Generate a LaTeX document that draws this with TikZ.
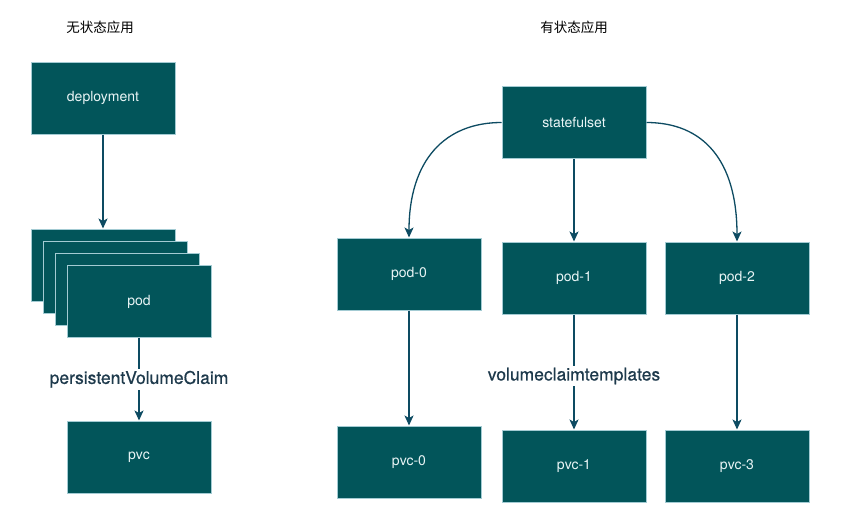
\documentclass[tikz,border=0pt]{standalone}
\usepackage{fontspec}
\setmainfont{TeX Gyre Heros}
\newfontfamily\cjk{Noto Sans CJK SC}
\newfontfamily\lblfont[FakeBold=0.6]{TeX Gyre Heros}
\usetikzlibrary{arrows.meta}
\definecolor{boxfill}{HTML}{02555A}
\definecolor{boxline}{HTML}{A3CBD3}
\definecolor{arrowcol}{HTML}{0D4B62}
\definecolor{labelcol}{HTML}{1E3A4C}
\definecolor{boxtext}{HTML}{EAF5F6}
\tikzset{
  kbox/.style={draw=boxline, fill=boxfill, line width=1pt, minimum width=144pt, minimum height=72pt, inner sep=0pt, text=boxtext, font=\fontsize{14}{16}\selectfont},
  conn/.style={draw=arrowcol, line width=1.3pt, -{Stealth[length=10pt,width=9pt,inset=2.5pt]}},
  lbl/.style={fill=white, text=labelcol, inner sep=2pt, font=\lblfont\fontsize{17.5}{20}\selectfont},
  ttl/.style={text=black, font=\cjk\fontsize{13.5}{16}\selectfont}
}
\begin{document}
\begin{tikzpicture}[x=1pt,y=1pt]
\useasboundingbox[fill=white] (0,0) rectangle (854,-515);
% titles
\node[ttl] (t1) at (100,-27) {无状态应用};
\node[ttl] (t2) at (574,-27) {有状态应用};
% left side
\node[kbox] (dep) at (103,-98) {deployment};
\node[kbox] (pa) at (103,-265) {};
\node[kbox] (pb) at (115,-277) {};
\node[kbox] (pc) at (127,-289) {};
\node[kbox] (pod) at (139,-301.5) {pod};
\node[kbox] (pvc) at (139,-457) {pvc};
\draw[conn] (dep.south) -- (pa.north);
\draw[conn] (pod.south) -- node[lbl, pos=0.5] (l1) {persistentVolumeClaim} (pvc.north);
% right side
\node[kbox] (ss) at (574,-122.5) {statefulset};
\node[kbox] (p0) at (409,-274) {pod-0};
\node[kbox] (p1) at (574,-278) {pod-1};
\node[kbox] (p2) at (737,-278) {pod-2};
\node[kbox] (v0) at (409,-462) {pvc-0};
\node[kbox] (v1) at (574,-466) {pvc-1};
\node[kbox] (v3) at (737,-466) {pvc-3};
\draw[conn] (ss.west) .. controls (445,-122.5) and (409,-160) .. (p0.north);
\draw[conn] (ss.south) -- (p1.north);
\draw[conn] (ss.east) .. controls (703,-122.5) and (737,-160) .. (p2.north);
\draw[conn] (p0.south) -- (v0.north);
\draw[conn] (p1.south) -- node[lbl, pos=0.5, yshift=-4pt] (l2) {volumeclaimtemplates} (v1.north);
\draw[conn] (p2.south) -- (v3.north);
\end{tikzpicture}
\end{document}
